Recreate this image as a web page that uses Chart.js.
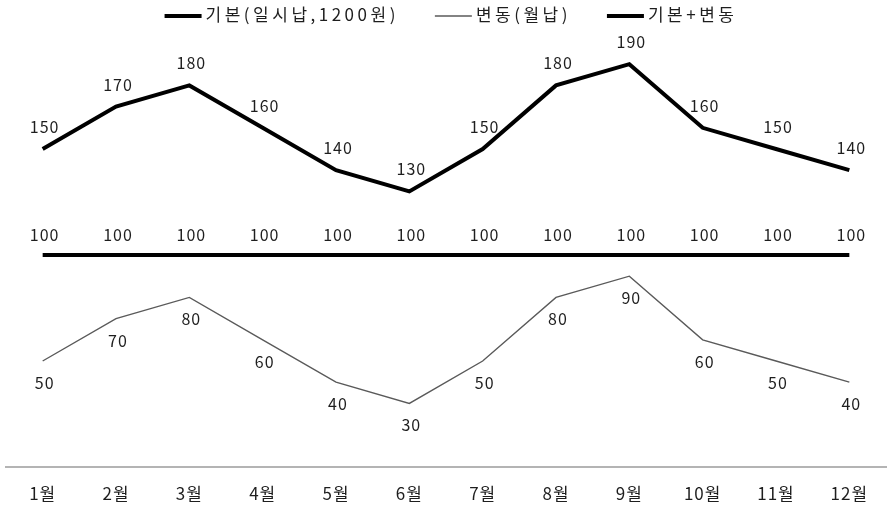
<!DOCTYPE html>
<html>
<head>
<meta charset="utf-8">
<script src="https://cdn.jsdelivr.net/npm/chart.js@4.4.1/dist/chart.umd.min.js"></script>
<style>
  html, body { margin: 0; padding: 0; background: #fff; }
  #wrap { width: 887px; height: 506px; }
</style>
</head>
<body>
<div id="wrap"><canvas id="c" width="887" height="506"></canvas></div>
<script>
// Months on the category axis
const months = ['1월', '2월', '3월', '4월', '5월', '6월', '7월', '8월', '9월', '10월', '11월', '12월'];

// Fixed base amount (lump sum)
const baseValues = [100, 100, 100, 100, 100, 100, 100, 100, 100, 100, 100, 100];
// Monthly variable amount
const variableValues = [50, 70, 80, 60, 40, 30, 50, 80, 90, 60, 50, 40];
// Base + variable
const totalValues = [150, 170, 180, 160, 140, 130, 150, 180, 190, 160, 150, 140];

const seriesNames = ['기본(일시납,1200원)', '변동(월납)', '기본+변동'];

const FONT = "'Noto Sans CJK KR', 'Noto Sans', sans-serif";
const TEXT_COLOR = '#1e1e1e';

// Slightly wider glyph spacing for all canvas text
const spacing = {
  id: 'spacing',
  beforeDraw(chart) { chart.ctx.letterSpacing = '1px'; }
};

// Writes each point's value next to it: above for the thick lines, below for the thin one
const valueLabels = {
  id: 'valueLabels',
  afterDatasetsDraw(chart) {
    const ctx = chart.ctx;
    ctx.save();
    ctx.letterSpacing = '1px';
    ctx.font = '16px ' + FONT;
    ctx.fillStyle = TEXT_COLOR;
    ctx.textAlign = 'center';
    ctx.textBaseline = 'middle';
    chart.data.datasets.forEach((ds, i) => {
      const meta = chart.getDatasetMeta(i);
      meta.data.forEach((pt, j) => {
        ctx.fillText(String(ds.data[j]), pt.x + 2, pt.y + ds.labelOffset);
      });
    });
    ctx.restore();
  }
};

// Legend row across the top: a line sample followed by the series name
const lineLegend = {
  id: 'lineLegend',
  afterDraw(chart) {
    const ctx = chart.ctx;
    const sample = 37, textGap = 4, itemGap = 36, cy = 15, centerX = 451;
    ctx.save();
    ctx.letterSpacing = '3.5px';
    ctx.font = '17px ' + FONT;
    const items = chart.data.datasets.map(ds => ({
      ds, w: ctx.measureText(ds.label).width
    }));
    const total = items.reduce((s, it) => s + sample + textGap + it.w, 0) + itemGap * (items.length - 1);
    let x = centerX - total / 2;
    items.forEach(({ ds, w }) => {
      ctx.strokeStyle = ds.borderColor;
      ctx.lineWidth = ds.borderWidth;
      ctx.beginPath();
      ctx.moveTo(x, cy + 1);
      ctx.lineTo(x + sample, cy + 1);
      ctx.stroke();
      ctx.fillStyle = TEXT_COLOR;
      ctx.textAlign = 'left';
      ctx.textBaseline = 'middle';
      ctx.fillText(ds.label, x + sample + textGap, cy);
      x += sample + textGap + w + itemGap;
    });
    ctx.restore();
  }
};

new Chart(document.getElementById('c'), {
  type: 'line',
  data: {
    labels: months,
    datasets: [
      {
        label: seriesNames[0],
        data: baseValues,
        borderColor: '#000',
        backgroundColor: '#000',
        borderWidth: 4,
        labelOffset: -20
      },
      {
        label: seriesNames[1],
        data: variableValues,
        borderColor: '#5a5a5a',
        backgroundColor: '#5a5a5a',
        borderWidth: 1.4,
        labelOffset: 22
      },
      {
        label: seriesNames[2],
        data: totalValues,
        borderColor: '#000',
        backgroundColor: '#000',
        borderWidth: 4,
        labelOffset: -22
      }
    ]
  },
  options: {
    responsive: false,
    animation: false,
    devicePixelRatio: 1,
    layout: { padding: { left: 6, right: 1, top: 43, bottom: 0 } },
    elements: {
      point: { radius: 0, hoverRadius: 0 },
      line: { tension: 0, borderJoinStyle: 'miter', borderCapStyle: 'butt' }
    },
    plugins: {
      legend: { display: false },
      tooltip: { enabled: false }
    },
    scales: {
      x: {
        offset: true,
        grid: { display: false, drawTicks: false },
        border: { display: true, color: '#b4b4b4', width: 2 },
        ticks: {
          font: { family: FONT, size: 17 },
          color: TEXT_COLOR,
          padding: 16,
          maxRotation: 0,
          autoSkip: false
        },
        afterFit(scale) { scale.height = 39; }
      },
      y: {
        display: false,
        min: 0,
        max: 200
      }
    }
  },
  plugins: [spacing, valueLabels, lineLegend]
});
</script>
</body>
</html>
